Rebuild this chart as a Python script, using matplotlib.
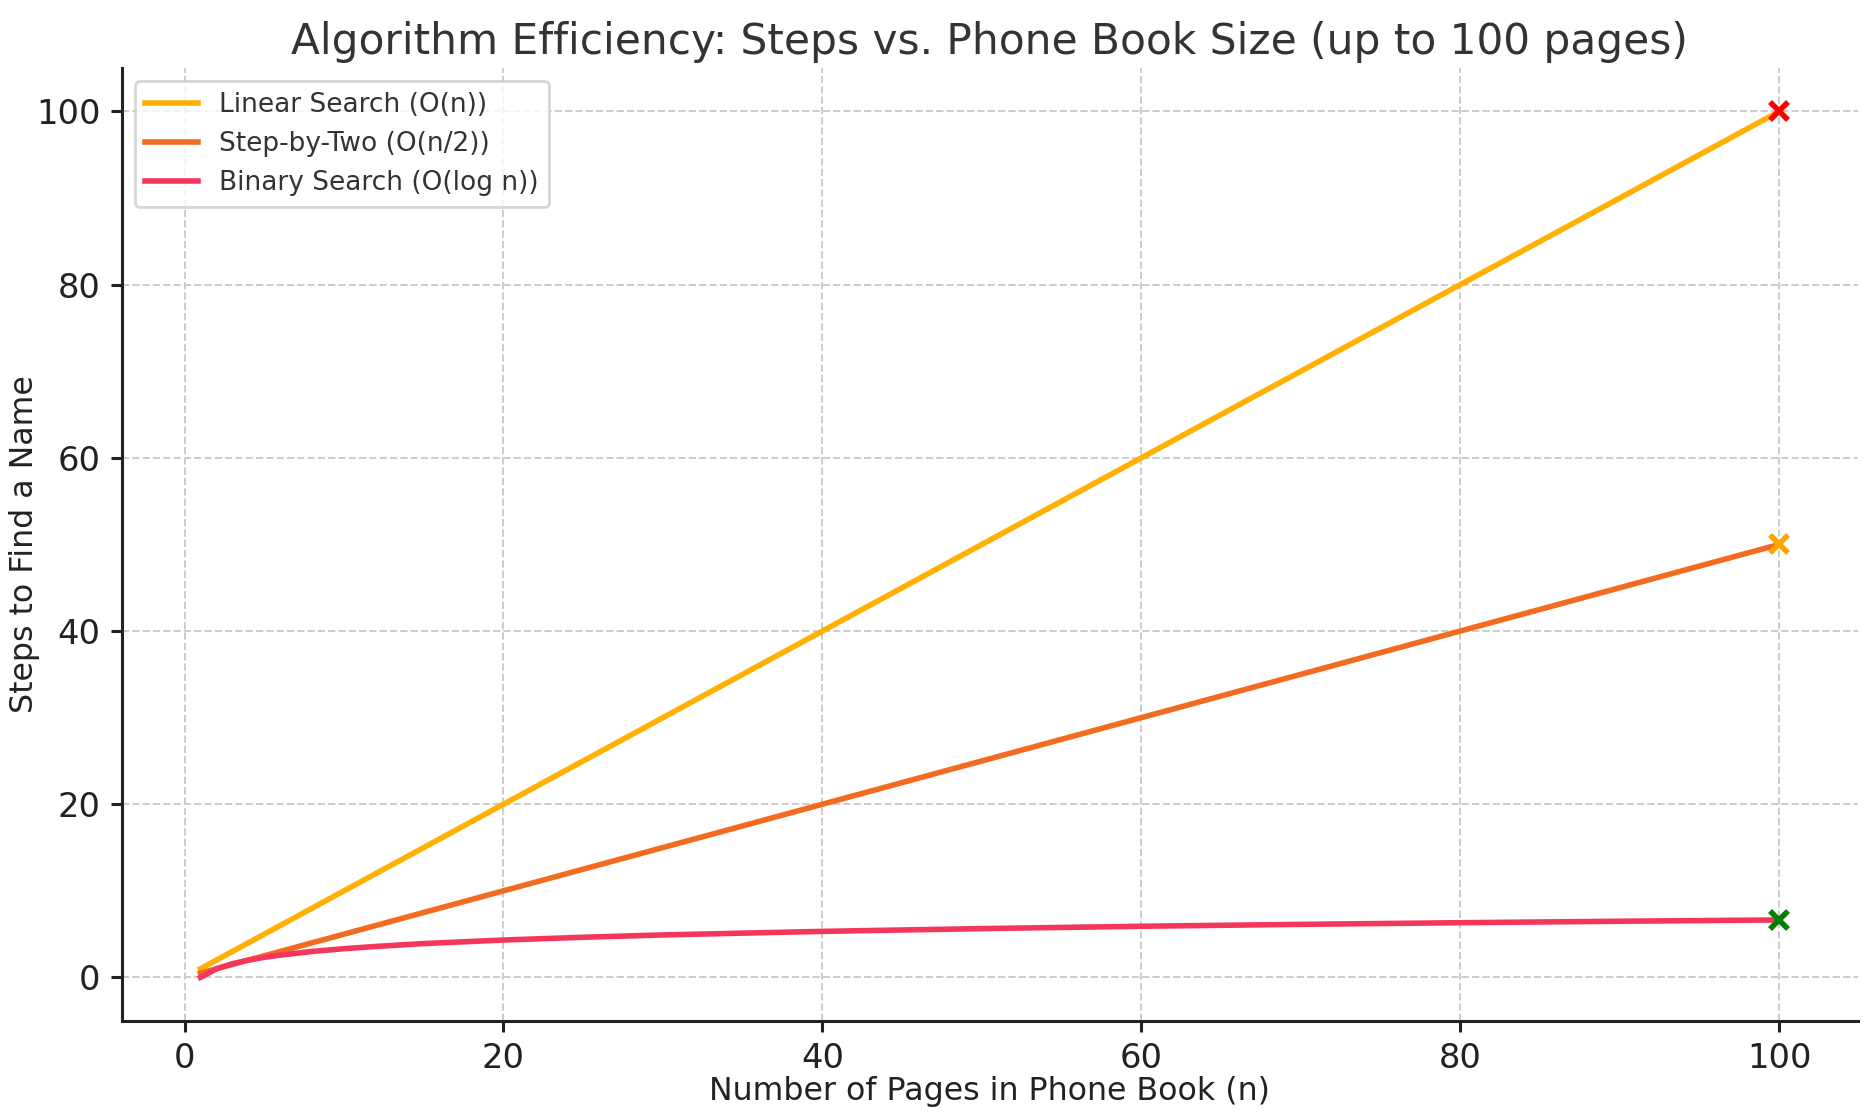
import matplotlib.pyplot as plt

# pages in the phone book and steps needed
pages_lin = [1, 100]
steps_linear = [1, 100]
steps_half = [0.5, 50]
pages_bin = [1, 2, 3, 4, 5, 6, 8, 10, 12, 15, 20, 25, 30, 40, 50, 60, 70, 80, 90, 100]
steps_binary = [0.0, 1.0, 1.58, 2.0, 2.32, 2.58, 3.0, 3.32, 3.58, 3.91, 4.32,
                4.64, 4.91, 5.32, 5.64, 5.91, 6.13, 6.32, 6.49, 6.64]

end_pages = [100, 100, 100]
end_steps = [100, 50, 6.64]
end_colors = ["red", "orange", "green"]

plt.rcParams["font.family"] = "DejaVu Sans"
fig = plt.figure(figsize=(9.35, 5.59), dpi=200)
ax = fig.add_axes([0.065, 0.087, 0.9286, 0.852])

ax.plot(pages_lin, steps_linear, color="#ffb000", lw=2, label="Linear Search (O(n))")
ax.plot(pages_lin, steps_half, color="#f26b21", lw=2, label="Step-by-Two (O(n/2))")
ax.plot(pages_bin, steps_binary, color="#f5365c", lw=2, label="Binary Search (O(log n))")

for px, py, c in zip(end_pages, end_steps, end_colors):
    ax.plot(px, py, marker="x", color=c, ms=6.5, mew=2, ls="none", zorder=5)

ax.set_title("Algorithm Efficiency: Steps vs. Phone Book Size (up to 100 pages)",
             fontsize=15.2, color="#333333", pad=5)
ax.set_xlabel("Number of Pages in Phone Book (n)", fontsize=11.4, color="#222222")
ax.set_ylabel("Steps to Find a Name", fontsize=11.4, color="#222222")
ax.xaxis.set_label_coords(0.5, -0.058)
ax.yaxis.set_label_coords(-0.047, 0.5)
ax.set_xticks([0, 20, 40, 60, 80, 100])
ax.set_yticks([0, 20, 40, 60, 80, 100])
ax.tick_params(labelsize=12.1, length=4, width=1.1, colors="#222222")

for s in ["top", "right"]:
    ax.spines[s].set_visible(False)
for s in ["left", "bottom"]:
    ax.spines[s].set_linewidth(1.1)
    ax.spines[s].set_color("#222222")

ax.grid(True, ls="--", color="#cccccc", lw=0.7)
ax.set_axisbelow(True)

leg = ax.legend(loc="upper left", fontsize=9.5, frameon=True)
leg.get_frame().set_edgecolor("#cccccc")
for t in leg.get_texts():
    t.set_color("#333333")

fig.savefig("out.png", dpi=200)
